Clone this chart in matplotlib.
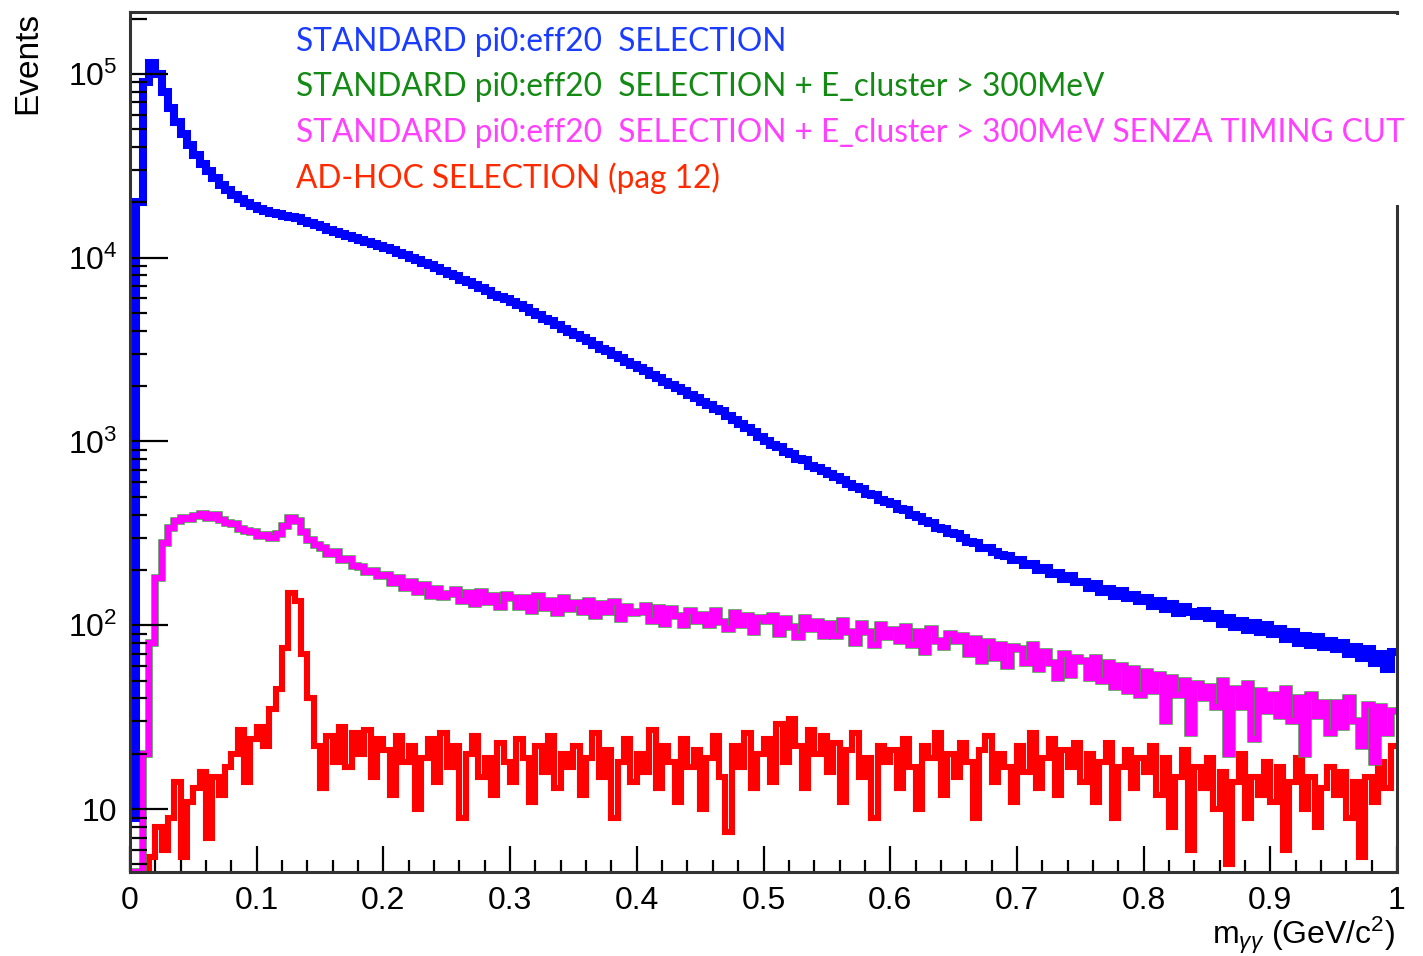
import matplotlib
matplotlib.use("Agg")
import matplotlib.pyplot as plt
import numpy as np
from matplotlib.patches import Rectangle
from matplotlib.ticker import FixedLocator, LogLocator, FuncFormatter, MultipleLocator

plt.rcParams['font.family'] = ['Liberation Sans', 'DejaVu Sans']
plt.rcParams['mathtext.fontset'] = 'custom'
plt.rcParams['mathtext.rm'] = 'Liberation Sans'
plt.rcParams['mathtext.it'] = 'Liberation Sans:italic'

# bin edges: 200 bins of 0.005 GeV/c^2 between 0 and 1
edges = np.linspace(0.0, 1.0, 201)

# standard pi0:eff20 selection (blue)
blue = [
    9, 2.0e4, 9.0e4, 1.15e5, 1.0e5, 8.0e4, 6.5e4, 5.5e4, 4.7e4, 4.1e4,
    3.6e4, 3.25e4, 2.95e4, 2.7e4, 2.5e4, 2.33e4, 2.2e4, 2.08e4, 1.98e4, 1.9e4,
    1.84e4, 1.79e4, 1.75e4, 1.72e4, 1.69e4, 1.67e4, 1.64e4, 1.59e4, 1.54e4, 1.5e4,
    1.46e4, 1.42e4, 1.38e4, 1.35e4, 1.31e4, 1.28e4, 1.25e4, 1.22e4, 1.19e4, 1.16e4,
    1.13e4, 1.1e4, 1.06e4, 1.03e4, 1.0e4, 9.7e3, 9.4e3, 9.1e3, 8.8e3, 8.5e3,
    8.2e3, 7.9e3, 7.6e3, 7.35e3, 7.1e3, 6.8e3, 6.55e3, 6.3e3, 6.1e3, 5.95e3,
    5.75e3, 5.5e3, 5.3e3, 5.05e3, 4.85e3, 4.65e3, 4.5e3, 4.3e3, 4.1e3, 3.95e3,
    3.8e3, 3.65e3, 3.5e3, 3.35e3, 3.2e3, 3.1e3, 2.95e3, 2.85e3, 2.7e3, 2.6e3,
    2.5e3, 2.42e3, 2.3e3, 2.22e3, 2.12e3, 2.03e3, 1.95e3, 1.88e3, 1.78e3, 1.72e3,
    1.65e3, 1.58e3, 1.5e3, 1.46e3, 1.38e3, 1.31e3, 1.25e3, 1.18e3, 1.12e3, 1.06e3,
    1000, 960, 935, 880, 860, 800, 790, 740, 715, 690,
    665, 640, 615, 590, 565, 550, 520, 510, 480, 470,
    455, 430, 425, 400, 390, 370, 362, 340, 335, 318,
    312, 300, 285, 282, 265, 262, 250, 242, 238, 228,
    226, 212, 215, 200, 204, 190, 192, 178, 185, 172,
    172, 160, 168, 152, 158, 145, 154, 140, 146, 136,
    140, 128, 136, 122, 130, 116, 126, 118, 112, 120,
    110, 115, 102, 110, 98, 106, 94, 103, 92, 100,
    90, 96, 84, 92, 80, 88, 78, 86, 76, 82,
    74, 80, 70, 76, 66, 74, 62, 70, 58, 72,
]

# + E_cluster > 300 MeV, without timing cut (magenta); the green one lies under it
magenta = [
    0, 0, 20, 80, 180, 280, 340, 370, 385, 380,
    395, 405, 385, 400, 375, 360, 355, 335, 325, 320,
    305, 310, 300, 315, 345, 385, 370, 320, 290, 275,
    265, 245, 250, 228, 230, 210, 208, 195, 198, 185,
    188, 170, 180, 160, 172, 152, 165, 145, 158, 142,
    148, 155, 136, 150, 130, 152, 134, 145, 126, 146,
    140, 126, 140, 120, 144, 124, 136, 116, 140, 122,
    132, 118, 136, 112, 130, 118, 134, 108, 126, 116,
    118, 127, 106, 124, 102, 122, 113, 100, 120, 106,
    114, 100, 120, 104, 95, 117, 100, 112, 92, 110,
    106, 112, 90, 108, 98, 86, 110, 95, 104, 88,
    102, 88, 106, 92, 80, 102, 92, 78, 100, 86,
    94, 82, 98, 78, 92, 72, 95, 82, 76, 90,
    82, 88, 70, 84, 64, 81, 66, 78, 60, 76,
    74, 62, 78, 58, 72, 62, 52, 70, 54, 66,
    64, 52, 66, 50, 62, 46, 60, 44, 58, 42,
    56, 44, 54, 30, 52, 42, 50, 26, 48, 40,
    46, 36, 50, 20, 45, 36, 48, 24, 44, 34,
    42, 32, 45, 30, 40, 20, 42, 32, 38, 26,
    38, 28, 40, 30, 22, 37, 18, 36, 26, 34,
]
green = magenta

# ad-hoc selection (red)
red = [
    0, 0, 0, 5.5, 8, 6, 9, 14, 5.5, 11,
    13, 16, 7, 15, 12, 17, 20, 27, 14, 24,
    28, 22, 35, 45, 75, 150, 135, 70, 40, 22,
    13, 25, 18, 28, 17, 26, 20, 27, 15, 24,
    21, 12, 25, 18, 22, 10, 19, 24, 14, 26,
    17, 22, 9, 20, 25, 15, 19, 12, 23, 18,
    14, 24, 19, 11, 22, 16, 25, 13, 20, 17,
    22, 12, 19, 26, 15, 21, 9, 18, 24, 14,
    20, 16, 27, 13, 22, 18, 11, 24, 17, 21,
    10, 19, 25, 15, 7.5, 22, 17, 26, 13, 20,
    24, 14, 29, 18, 31, 22, 13, 27, 20, 25,
    16, 23, 11, 21, 26, 15, 19, 9, 22, 18,
    21, 13, 24, 17, 10, 22, 19, 26, 12, 20,
    15, 23, 18, 9, 21, 25, 14, 20, 17, 11,
    22, 16, 26, 13, 19, 24, 12, 21, 17, 23,
    14, 20, 11, 18, 23, 9, 17, 21, 13, 19,
    16, 22, 12, 19, 8, 15, 21, 6, 17, 13,
    19, 10, 16, 5, 14, 20, 9, 15, 12, 18,
    11, 17, 6, 14, 19, 10, 15, 8, 13, 17,
    12, 16, 9, 14, 5.5, 15, 11, 18, 13, 22,
]

legend_lines = [
    "STANDARD pi0:eff20  SELECTION",
    "STANDARD pi0:eff20  SELECTION + E_cluster > 300MeV",
    "STANDARD pi0:eff20  SELECTION + E_cluster > 300MeV SENZA TIMING CUT",
    "AD-HOC SELECTION (pag 12)",
]
legend_colors = ["#1a3cff", "#138a13", "#ff40ff", "#ff2a00"]

ymin, ymax = 4.55, 2.17e5

fig = plt.figure(figsize=(14.23, 9.56), dpi=100)
ax = fig.add_axes([130/1423, 84/956, 1267/1423, 860/956])

def draw(vals, color, lw):
    v = np.clip(np.array(vals, dtype=float), ymin, None)
    ax.stairs(v, edges, baseline=None, color=color, lw=lw)

draw(red, "#ff0000", 4.4)
draw(green, "#30b030", 5.4)
draw(magenta, "#ff00ff", 4.5)
draw(blue, "#0000ff", 5.8)

ax.set_yscale("log")
ax.set_xlim(0, 1)
ax.set_ylim(ymin, ymax)

ax.xaxis.set_major_locator(MultipleLocator(0.1))
ax.xaxis.set_minor_locator(MultipleLocator(0.02))
ax.xaxis.set_major_formatter(FuncFormatter(lambda v, p: "0" if abs(v) < 1e-9 else ("1" if abs(v - 1) < 1e-9 else f"{v:.1f}")))
ax.yaxis.set_major_locator(FixedLocator([10, 100, 1e3, 1e4, 1e5]))
ax.yaxis.set_minor_locator(LogLocator(base=10, subs=np.arange(2, 10)))

def ylab(v, p):
    e = int(round(np.log10(v)))
    return "10" if e == 1 else r"$10^{%d}$" % e
ax.yaxis.set_major_formatter(FuncFormatter(ylab))

ax.tick_params(axis="both", which="both", direction="in", colors="black",
               top=False, right=False, labelsize=23)
ax.tick_params(axis="y", which="major", length=27, width=1.6, pad=9)
ax.tick_params(axis="y", which="minor", length=12, width=1.6)
ax.tick_params(axis="x", which="major", length=19, width=1.6, pad=10)
ax.tick_params(axis="x", which="minor", length=9, width=1.6)

for s in ax.spines.values():
    s.set_color("#333333")
    s.set_linewidth(2.2)

fig.text(28/1423, 1 - 12/956, "Events", rotation=90, ha="center", va="top", fontsize=24)
fig.text(1395/1423, 1 - 935/956, r"m$_{\gamma\gamma}$ (GeV/c$^{2}$)", ha="right", va="center", fontsize=23)

# white text box pasted over the top-right of the frame
fig.patches.append(Rectangle((290/1423, 1 - 205/956), 1133/1423, 190/956,
                             transform=fig.transFigure, facecolor="white", edgecolor="none", zorder=5))
for i, (t, c) in enumerate(zip(legend_lines, legend_colors)):
    fig.text(296/1423, 1 - (42 + 45.3*i)/956, t, color=c, ha="left", va="center",
             fontsize=22.8, family=["Lato", "DejaVu Sans"], zorder=6)

fig.savefig("out.png", dpi=100)
